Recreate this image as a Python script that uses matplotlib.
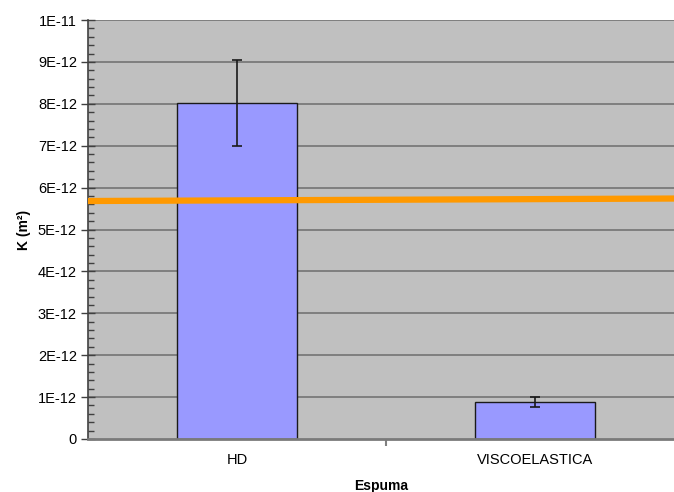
import matplotlib
matplotlib.use("Agg")
import matplotlib.pyplot as plt
from matplotlib.ticker import MultipleLocator
import numpy as np

plt.rcParams['font.family'] = ['Liberation Sans', 'DejaVu Sans']

categories = ["HD", "VISCOELASTICA"]
k_values = [8.02e-12, 0.88e-12]
k_errors = [1.02e-12, 0.12e-12]
ref_line = [5.68e-12, 5.74e-12]   # orange line, left end / right end

yticks = [i * 1e-12 for i in range(11)]
ytick_labels = ["0", "1E-12", "2E-12", "3E-12", "4E-12", "5E-12",
                "6E-12", "7E-12", "8E-12", "9E-12", "1E-11"]

fig = plt.figure(figsize=(6.74, 4.92), dpi=100)
ax = fig.add_axes([88/674, 1-439/492, 1-88/674, (439-20)/492])
ax.set_facecolor('#C0C0C0')

x = np.arange(len(categories))
xlim = (-0.5, 1.466)

for t in yticks[1:]:
    ax.axhline(t, color='#7a7a7a', lw=1.3, zorder=1)

ax.bar(x, k_values, width=0.40, color='#9999FF', edgecolor='#1a1a1a',
       linewidth=1.0, zorder=2)
ax.errorbar(x, k_values, yerr=k_errors, fmt='none', ecolor='#1a1a1a',
            elinewidth=1.2, capsize=3.5, capthick=1.2, zorder=3)
ax.plot([xlim[0], 1.5], ref_line, color='#FF9900', lw=4.5,
        solid_capstyle='butt', zorder=4)

ax.set_xlim(*xlim)
ax.set_ylim(0, 1e-11)
ax.set_yticks(yticks)
ax.set_yticklabels(ytick_labels)
ax.yaxis.set_minor_locator(MultipleLocator(0.2e-12))
ax.set_xticks(x)
ax.set_xticklabels(categories)
ax.set_xticks([0.5], minor=True)

ax.tick_params(axis='y', which='major', direction='inout', length=10,
               width=1, color='#404040', labelsize=10.5, pad=3)
ax.tick_params(axis='y', which='minor', direction='in', length=4,
               width=1, color='#404040')
ax.tick_params(axis='x', which='major', length=0, labelsize=10.5, pad=10)
ax.tick_params(axis='x', which='minor', direction='out', length=5,
               width=1.5, color='#808080')

for s in ['top', 'right']:
    ax.spines[s].set_visible(False)
ax.spines['left'].set_color('#404040')
ax.spines['left'].set_linewidth(1.2)
ax.spines['bottom'].set_color('#7a7a7a')
ax.spines['bottom'].set_linewidth(2)

ax.set_ylabel("K (m²)", fontweight='bold', fontsize=10, labelpad=5)
ax.set_xlabel("Espuma", fontweight='bold', fontsize=10, labelpad=9)

fig.savefig("out.png", dpi=100)
